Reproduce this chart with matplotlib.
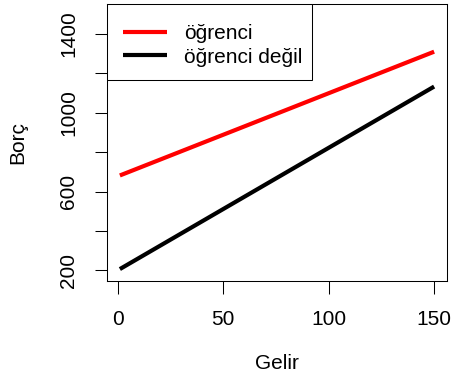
import matplotlib
matplotlib.use("Agg")
import matplotlib.pyplot as plt
from matplotlib.patches import Rectangle

# Fitted lines: debt (Borç) against income (Gelir) for students / non-students
gelir = [1, 150]
ogrenci = [682, 1310]
ogrenci_degil = [207, 1133]

x_ticks = [0, 50, 100, 150]
y_ticks = [200, 400, 600, 800, 1000, 1200, 1400]
y_tick_labels = ["200", "", "600", "", "1000", "", "1400"]

plt.rcParams["font.family"] = ["Liberation Sans", "DejaVu Sans"]
FS = 15

fig = plt.figure(figsize=(4.54, 3.81), dpi=100)
ax_w_px, ax_h_px = 446.7 - 107.3, 280.7 - 4
ax = fig.add_axes([107.3 / 454, 1 - 280.7 / 381, ax_w_px / 454, ax_h_px / 381])

ax.plot(gelir, ogrenci, color="#ff0000", lw=3, solid_capstyle="butt", label="öğrenci")
ax.plot(gelir, ogrenci_degil, color="black", lw=3, solid_capstyle="butt", label="öğrenci değil")

ax.set_xlim(-4.96, 155.96)
ax.set_ylim(148, 1552)

ax.set_xticks(x_ticks)
ax.set_xticklabels([str(v) for v in x_ticks])
ax.set_yticks(y_ticks)
ax.set_yticklabels(y_tick_labels, rotation=90, va="center")

ax.tick_params(axis="both", direction="out", length=9, width=0.75, labelsize=FS, color="black")
ax.tick_params(axis="x", pad=12)
ax.tick_params(axis="y", pad=12)

for s in ax.spines.values():
    s.set_linewidth(0.75)
    s.set_color("black")

ax.set_xlabel("Gelir", fontsize=FS)
ax.set_ylabel("Borç", fontsize=FS)
ax.xaxis.set_label_coords(0.5, -0.30)
ax.xaxis.label.set_va("center")
ax.yaxis.set_label_coords(-0.265, 0.5)
ax.yaxis.label.set_va("center")

# Legend entries, with a square box drawn around them
leg = ax.legend(loc="upper left", bbox_to_anchor=(3 / ax_w_px, 1 - 8 / ax_h_px),
                borderaxespad=0, frameon=False, fontsize=FS,
                handlelength=2.1, handletextpad=0.85, borderpad=0.6, labelspacing=0.2)
box = Rectangle((0, 1 - 76 / ax_h_px), 205 / ax_w_px, 76 / ax_h_px,
                transform=ax.transAxes, facecolor="white", edgecolor="black",
                linewidth=0.75, zorder=4)
ax.add_patch(box)
leg.set_zorder(5)

fig.savefig("out.png", dpi=100)
